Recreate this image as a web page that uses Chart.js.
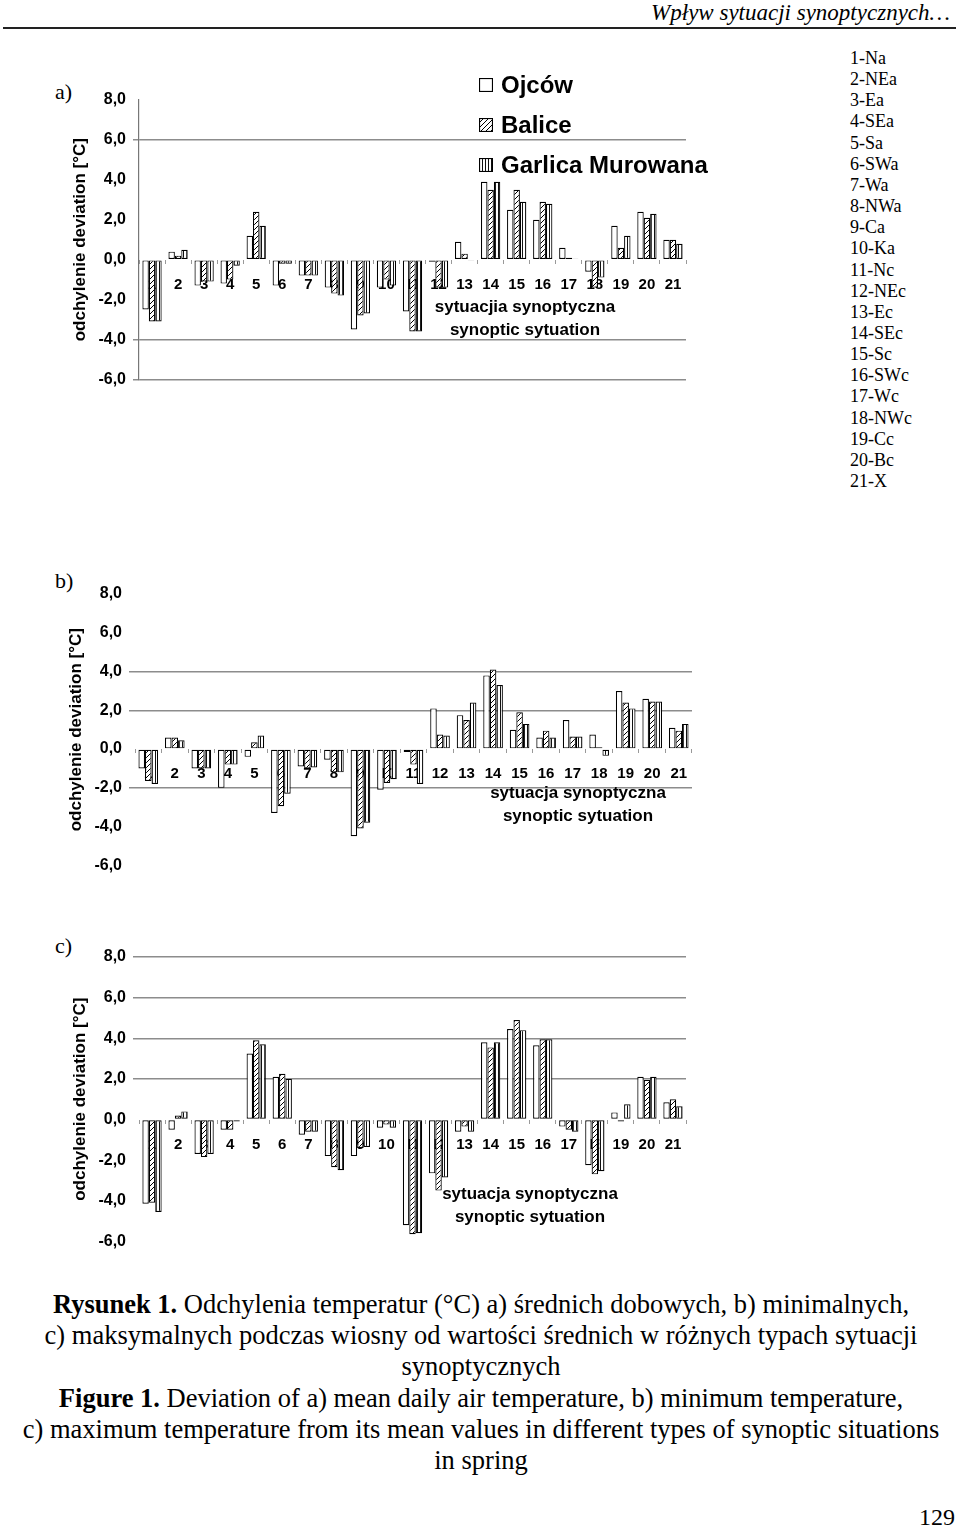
<!DOCTYPE html>
<html>
<head>
<meta charset="utf-8">
<script src="https://cdn.jsdelivr.net/npm/chart.js@4.4.1/dist/chart.umd.min.js"></script>
<style>
body { margin:0; width:960px; height:1527px; background:#fff; position:relative; overflow:hidden;
       font-family:"Liberation Serif","Times New Roman",serif; color:#000; }
.t { position:absolute; white-space:nowrap; line-height:1; transform:translateY(-50%); }
.c { transform:translate(-50%,-50%); }
.r { transform:translate(-100%,-50%); }
.sans { font-family:"Liberation Sans",Arial,sans-serif; font-weight:bold; }
canvas { position:absolute; }
.sw { position:absolute; width:14px; height:14px; }
.cap { font-size:26.5px; }
</style>
</head>
<body>
<div class="t r" style="left:950px;top:12px;font-style:italic;font-size:23px;">Wpływ sytuacji synoptycznych…</div>
<div style="position:absolute;left:3px;top:27px;width:953px;height:2px;background:#222"></div>

<div class="t" style="left:55px;top:92px;font-size:22px;">a)</div>
<div class="t" style="left:55px;top:581px;font-size:22px;">b)</div>
<div class="t" style="left:55px;top:946px;font-size:22px;">c)</div>

<canvas id="chartA" width="657" height="336" style="left:39px;top:60px"></canvas>
<canvas id="chartB" width="667" height="328" style="left:35px;top:554px"></canvas>
<canvas id="chartC" width="657" height="341" style="left:39px;top:917px"></canvas>

<!-- legend -->
<canvas id="sw0" class="sw" width="14" height="14" style="left:479px;top:78px"></canvas>
<canvas id="sw1" class="sw" width="14" height="14" style="left:479px;top:118px"></canvas>
<canvas id="sw2" class="sw" width="14" height="14" style="left:479px;top:158px"></canvas>
<div class="t sans" style="left:501px;top:85px;font-size:24px;">Ojców</div>
<div class="t sans" style="left:501px;top:125px;font-size:24px;">Balice</div>
<div class="t sans" style="left:501px;top:165px;font-size:24px;">Garlica Murowana</div>

<!-- x axis titles -->
<div class="t c sans" style="left:525px;top:306px;font-size:17px;">sytuacjia synoptyczna</div>
<div class="t c sans" style="left:525px;top:329px;font-size:17px;">synoptic sytuation</div>
<div class="t c sans" style="left:578px;top:792px;font-size:17px;">sytuacja synoptyczna</div>
<div class="t c sans" style="left:578px;top:815px;font-size:17px;">synoptic sytuation</div>
<div class="t c sans" style="left:530px;top:1193px;font-size:17px;">sytuacja synoptyczna</div>
<div class="t c sans" style="left:530px;top:1216px;font-size:17px;">synoptic sytuation</div>

<div id="types"></div>

<!-- caption -->
<div class="t c cap" style="left:481px;top:1304px;"><b>Rysunek 1.</b> Odchylenia temperatur (°C) a) średnich dobowych, b) minimalnych,</div>
<div class="t c cap" style="left:481px;top:1335px;">c) maksymalnych podczas wiosny od wartości średnich w różnych typach sytuacji</div>
<div class="t c cap" style="left:481px;top:1366px;">synoptycznych</div>
<div class="t c cap" style="left:481px;top:1398px;"><b>Figure 1.</b> Deviation of a) mean daily air temperature, b) minimum temperature,</div>
<div class="t c cap" style="left:481px;top:1429px;">c) maximum temperature from its mean values in different types of synoptic situations</div>
<div class="t c cap" style="left:481px;top:1460px;">in spring</div>
<div class="t r" style="left:955px;top:1517px;font-size:24px;">129</div>

<script>
const categories = ['1','2','3','4','5','6','7','8','9','10','11','12','13','14','15','16','17','18','19','20','21'];
const typeNames = ['1-Na','2-NEa','3-Ea','4-SEa','5-Sa','6-SWa','7-Wa','8-NWa','9-Ca','10-Ka','11-Nc',
                   '12-NEc','13-Ec','14-SEc','15-Sc','16-SWc','17-Wc','18-NWc','19-Cc','20-Bc','21-X'];
const seriesNames = ['Ojców', 'Balice', 'Garlica Murowana'];

// a) mean daily temperature
const ojcowA   = [-2.5, 0.4, -1.3, -1.2, 1.2, -1.3, -0.8, -1.4, -3.5, -1.4, -2.6, -0.1, 0.9, 3.9, 2.5, 2.0, 0.6, -0.6, 1.7, 2.4, 1.0];
const baliceA  = [-3.1, 0.2, -1.1, -1.0, 2.4, -0.2, -0.8, -1.7, -2.8, -1.0, -3.6, -1.4, 0.3, 3.5, 3.5, 2.9, 0.1, -1.4, 0.6, 2.1, 1.0];
const garlicaA = [-3.1, 0.5, -1.1, -0.3, 1.7, -0.2, -0.8, -1.8, -2.7, -1.3, -3.6, -1.4, -0.05, 3.9, 2.9, 2.8, 0.05, -0.9, 1.2, 2.3, 0.8];

// b) minimum temperature
const ojcowB   = [-1.0, 0.6, -1.0, -2.0, -0.4, -3.3, -0.9, -0.55, -4.5, -2.1, -0.15, 2.1, 1.75, 3.8, 1.0, 0.6, 1.5, 0.75, 3.0, 2.6, 1.1];
const baliceB  = [-1.65, 0.6, -1.0, -0.8, 0.35, -2.95, -1.0, -1.2, -4.1, -1.75, -0.8, 0.75, 1.5, 4.1, 1.9, 0.95, 0.65, 0.1, 2.4, 2.45, 0.95];
const garlicaB = [-1.8, 0.45, -1.0, -0.8, 0.7, -2.3, -0.95, -1.2, -3.8, -1.55, -1.8, 0.7, 2.4, 3.3, 1.3, 0.6, 0.65, -0.35, 2.1, 2.45, 1.3];

// c) maximum temperature
const ojcowC   = [-4.15, -0.5, -1.7, -0.5, 3.25, 2.1, -0.75, -1.8, -1.8, -0.4, -5.2, -2.65, -0.6, 3.8, 4.45, 3.65, -0.35, -2.25, 0.35, 2.1, 0.85];
const baliceC  = [-4.1, 0.2, -1.85, -0.5, 3.9, 2.25, -0.6, -2.35, -1.4, -0.25, -5.65, -3.5, -0.35, 3.55, 4.9, 3.95, -0.5, -2.7, -0.1, 1.95, 1.0];
const garlicaC = [-4.55, 0.4, -1.7, -0.1, 3.7, 2.0, -0.6, -2.5, -1.35, -0.4, -5.6, -2.85, -0.6, 3.8, 4.4, 3.95, -0.6, -2.55, 0.75, 2.1, 0.65];

const yMin = -6, yMax = 8, yStep = 2;

// list of synoptic types on the right
const typesBox = document.getElementById('types');
typeNames.forEach((n, i) => {
    const d = document.createElement('div');
    d.className = 't';
    d.style.left = '850px';
    d.style.top = (58 + i * 21.15) + 'px';
    d.style.fontSize = '18px';
    d.textContent = n;
    typesBox.appendChild(d);
});

// fill patterns
function hatchPattern() {
    const c = document.createElement('canvas');
    c.width = 5; c.height = 5;
    const g = c.getContext('2d');
    g.fillStyle = '#fff'; g.fillRect(0, 0, 5, 5);
    g.strokeStyle = '#000'; g.lineWidth = 1;
    g.beginPath();
    g.moveTo(0, 5); g.lineTo(5, 0);
    g.moveTo(-1, 1); g.lineTo(1, -1);
    g.moveTo(4, 6); g.lineTo(6, 4);
    g.stroke();
    return g.createPattern(c, 'repeat');
}
function stripePattern() {
    const c = document.createElement('canvas');
    c.width = 3; c.height = 3;
    const g = c.getContext('2d');
    g.fillStyle = '#fff'; g.fillRect(0, 0, 3, 3);
    g.fillStyle = '#111'; g.fillRect(0, 0, 1, 3);
    return g.createPattern(c, 'repeat');
}
const hatch = hatchPattern();
const stripes = stripePattern();
const fills = ['#fff', hatch, stripes];

// legend swatches
fills.forEach((f, i) => {
    const g = document.getElementById('sw' + i).getContext('2d');
    g.fillStyle = f; g.fillRect(0, 0, 14, 14);
    g.strokeStyle = '#000'; g.lineWidth = 1.2; g.strokeRect(0.5, 0.5, 13, 13);
});

const sans = '"Liberation Sans", Arial, sans-serif';

function makeChart(id, ojcow, balice, garlica, gridAt, showAxis) {
    const gridColor = ctx => (ctx.tick && gridAt.includes(ctx.tick.value)) ? '#8c8c8c' : 'rgba(0,0,0,0)';
    return new Chart(document.getElementById(id), {
        type: 'bar',
        data: {
            labels: categories,
            datasets: [ojcow, balice, garlica].map((d, i) => ({
                label: seriesNames[i],
                data: d,
                backgroundColor: fills[i]
            }))
        },
        options: {
            responsive: false,
            animation: false,
            devicePixelRatio: 1,
            layout: { padding: { top: 40, bottom: 15, left: 0, right: 10 } },
            datasets: { bar: {
                borderColor: '#000', borderWidth: 1.2, borderSkipped: false,
                categoryPercentage: 0.74, barPercentage: 1.0
            } },
            plugins: { legend: { display: false }, tooltip: { enabled: false } },
            scales: {
                x: {
                    position: { y: 0 },
                    grid: { offset: true, drawOnChartArea: false, drawTicks: true, tickLength: 4, color: '#999' },
                    border: { display: false },
                    ticks: { font: { family: sans, size: 15, weight: 'bold' }, color: '#000', padding: 12,
                             maxRotation: 0, autoSkip: false }
                },
                y: {
                    min: yMin, max: yMax,
                    afterFit: s => { s.width = 100; },
                    ticks: { stepSize: yStep, font: { family: sans, size: 16, weight: 'bold' }, color: '#000', padding: 7,
                             callback: v => v.toFixed(1).replace('.', ',') },
                    grid: { color: gridColor, tickColor: gridColor, lineWidth: 1.5, tickLength: 6, drawTicks: true },
                    border: { display: showAxis, color: '#777', width: 1.2 },
                    title: { display: true, text: 'odchylenie deviation [°C]', color: '#000',
                             font: { family: sans, size: 17, weight: 'bold' }, padding: { top: 31, bottom: 0 } }
                }
            }
        }
    });
}

makeChart('chartA', ojcowA, baliceA, garlicaA, [6, -4, -6], true);
makeChart('chartB', ojcowB, baliceB, garlicaB, [4, 2, -2], false);
makeChart('chartC', ojcowC, baliceC, garlicaC, [8, 6, 4, 2], false);
</script>
</body>
</html>
